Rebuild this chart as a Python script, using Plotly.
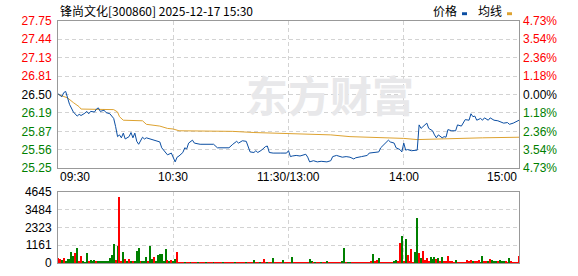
import plotly.graph_objects as go

# ---------------- data ----------------
title_text = "锋尚文化[300860] 2025-12-17 15:30"
prev_close = 26.50

price_min = [0, 2, 3, 4, 5, 6, 8, 9, 10, 11, 12, 14, 15, 16, 17, 19, 20, 21, 22, 24,
             25, 27, 29, 30, 31, 32, 33, 34, 35, 37, 38, 39, 40, 41, 42, 44, 45, 46, 49, 51,
             53, 54, 56, 57, 59, 60, 61, 62, 63, 65, 66, 67, 68, 70, 71, 74, 77, 79, 81, 83,
             86, 89, 91, 93, 94, 96, 98, 99, 100, 102, 103, 104, 106, 108, 109, 110, 112, 116, 119, 120,
             121, 122, 124, 126, 129, 130, 131, 133, 135, 137, 140, 142, 143, 145, 147, 148, 150, 152, 154, 155,
             158, 161, 162, 165, 167, 168, 170, 172, 173, 175, 176, 178, 179, 180, 181, 182, 184, 186, 187, 188,
             189, 190, 192, 193, 195, 196, 197, 198, 200, 201, 202, 203, 205, 207, 208, 210, 211, 212, 214, 215,
             216, 217, 218, 220, 221, 222, 224, 225, 227, 229, 232, 234, 235, 237, 240]
price_val = [26.51, 26.46, 26.53, 26.55, 26.44, 26.33, 26.20, 26.16, 26.13, 26.16, 26.14, 26.18, 26.21, 26.17, 26.21, 26.20, 26.25, 26.27, 26.21, 26.23,
             26.19, 26.17, 26.09, 25.95, 25.78, 25.81, 25.76, 25.84, 25.74, 25.78, 25.85, 25.76, 25.84, 25.70, 25.65, 25.77, 25.74, 25.76, 25.73, 25.70,
             25.69, 25.59, 25.50, 25.47, 25.50, 25.42, 25.35, 25.43, 25.45, 25.51, 25.59, 25.57, 25.67, 25.72, 25.67, 25.65, 25.65, 25.64, 25.65, 25.59,
             25.59, 25.59, 25.65, 25.70, 25.67, 25.71, 25.70, 25.62, 25.52, 25.51, 25.54, 25.51, 25.55, 25.61, 25.62, 25.51, 25.50, 25.50, 25.50, 25.54,
             25.44, 25.45, 25.46, 25.45, 25.48, 25.43, 25.35, 25.37, 25.35, 25.36, 25.35, 25.37, 25.44, 25.46, 25.44, 25.43, 25.44, 25.43, 25.40, 25.42,
             25.44, 25.46, 25.50, 25.51, 25.52, 25.59, 25.65, 25.72, 25.69, 25.67, 25.59, 25.56, 25.52, 25.67, 25.55, 25.56, 25.54, 25.55, 25.55, 25.98,
             25.92, 25.95, 26.01, 25.92, 25.88, 25.81, 25.76, 25.81, 25.76, 25.78, 25.77, 25.90, 25.88, 25.88, 25.98, 25.96, 26.01, 26.07, 26.06, 26.17,
             26.12, 26.13, 26.06, 26.09, 26.06, 26.10, 26.06, 26.10, 26.06, 26.05, 26.01, 26.02, 25.99, 26.01, 26.06]

avg_min = [0, 5, 8, 11, 12, 29, 31, 32, 34, 44, 46, 53, 57, 60, 63, 74, 91, 102, 119, 121,
           142, 152, 168, 180, 187, 197, 221, 240]
avg_val = [26.50, 26.44, 26.36, 26.29, 26.25, 26.24, 26.20, 26.12, 26.06, 26.05, 25.99, 25.96, 25.92, 25.91, 25.88, 25.88, 25.87, 25.85, 25.83, 25.83,
           25.81, 25.78, 25.77, 25.75, 25.73, 25.74, 25.76, 25.77]

volume = [300, 254, 170, 300, 106, 254, 254, 700, 424, 636,
          950, 106, 424, 64, 60, 636, 106, 212, 64, 170,
          64, 64, 64, 64, 64, 64, 64, 318, 530, 1270,
          212, 1100, 4346, 64, 700, 254, 64, 254, 106, 64,
          64, 785, 950, 64, 64, 106, 380, 64, 1100, 254,
          380, 106, 530, 594, 594, 64, 890, 212, 106, 170,
          64, 254, 700, 42, 42, 42, 42, 42, 42, 42,
          42, 42, 42, 42, 42, 42, 42, 42, 42, 42,
          42, 42, 42, 42, 42, 42, 42, 42, 42, 42,
          42, 42, 42, 42, 42, 42, 42, 42, 42, 42,
          42, 42, 212, 42, 42, 42, 42, 276, 42, 42,
          42, 42, 318, 42, 42, 42, 42, 212, 42, 42,
          42, 42, 380, 42, 42, 42, 42, 42, 42, 42,
          42, 276, 106, 42, 42, 42, 42, 42, 42, 42,
          85, 42, 42, 42, 42, 42, 42, 42, 106, 950,
          42, 42, 42, 42, 42, 42, 42, 42, 42, 42,
          42, 42, 42, 106, 570, 64, 170, 318, 42, 42,
          42, 42, 42, 42, 42, 85, 170, 106, 1335, 1780,
          64, 1590, 530, 64, 890, 42, 742, 2926, 636, 318,
          805, 170, 318, 64, 380, 254, 380, 254, 318, 64,
          380, 64, 64, 424, 64, 64, 42, 170, 42, 42,
          42, 42, 42, 212, 64, 170, 106, 64, 106, 170,
          42, 424, 106, 64, 64, 254, 170, 64, 64, 64,
          170, 106, 106, 64, 42, 318, 64, 42, 42, 42,
          424]
vol_dir = ("rrgrggggggr"[0:0] +
           "rrgrgggggr" + "grrgggrggg" + "rggggggggg" + "rgrrgrgrgr" + "gggrgggrgg" +
           "rggggggrgr" + "ggrrrrgrrg" + "rrrgrrrgrr" + "rgrrrrgrrr" + "rrgrrrrrgr" +
           "rrgrrgrrrg" + "rrgrrrrgrr" + "rrgrrrrrrr" + "rggrgrrgrr" + "grrrrrrrgg" +
           "rggrrrrrrr" + "rrrrgrrgrr" + "rrrrrggrrg" + "rgrrrrggrg" + "rrrrgggrgr" +
           "grrrrrrgrr" + "rrrrrrgrrr" + "ggrrgrgggr" + "gggrrgrrrr" + "r")

time_ticks = [0, 60, 120, 180, 240]
time_labels = ["09:30", "10:30", "11:30/13:00", "14:00", "15:00"]
price_ticks = [25.25, 25.56, 25.87, 26.19, 26.50, 26.81, 27.13, 27.44, 27.75]
pct_labels = ["4.73%", "3.54%", "2.36%", "1.18%", "0.00%", "1.18%", "2.36%", "3.54%", "4.73%"]
vol_ticks = [0, 1161, 2323, 3484, 4645]

# ---------------- styling ----------------
RED = "#FF0000"
GREEN = "#008000"
BLUE = "#0B4EA2"
GOLD = "#DDA230"
GRID = "#D3D3D3"
BORDER = "#999999"
FONT = "Liberation Sans, Arial, sans-serif"

W, H = 578, 276
ML, MR, MT, MB = 58, 59, 21, 6
plot_h = H - MT - MB
plot_w = W - ML - MR


def py(pix):
    return (H - MB - pix) / plot_h


def px(pix):
    return (pix - ML) / plot_w


def col_for(v):
    if abs(v - prev_close) < 1e-9:
        return "#000000"
    return RED if v > prev_close else GREEN


left_text = [f"<span style='color:{col_for(v)}'>{v:.2f}</span>" for v in price_ticks]
pct_vals = [(v - prev_close) / prev_close * 100 for v in price_ticks]
right_text = [f"<span style='color:{col_for(v)}'>{t}</span>" for v, t in zip(price_ticks, pct_labels)]

fig = go.Figure()

fig.add_trace(go.Scatter(x=avg_min, y=avg_val, mode="lines",
                         line=dict(color=GOLD, width=1), xaxis="x", yaxis="y",
                         hoverinfo="skip", showlegend=False))
fig.add_trace(go.Scatter(x=price_min, y=price_val, mode="lines",
                         line=dict(color=BLUE, width=1), xaxis="x", yaxis="y",
                         hoverinfo="skip", showlegend=False))
# invisible trace to anchor right axis
fig.add_trace(go.Scatter(x=[0, 240], y=[pct_vals[0], pct_vals[-1]], mode="lines",
                         line=dict(width=0, color="rgba(0,0,0,0)"), xaxis="x", yaxis="y3",
                         hoverinfo="skip", showlegend=False))

vol_x = list(range(len(volume)))
vol_colors = [RED if c == "r" else GREEN for c in vol_dir]
fig.add_trace(go.Bar(x=vol_x, y=volume, marker=dict(color=vol_colors, line=dict(width=0)),
                     width=0.55, xaxis="x2", yaxis="y2", hoverinfo="skip", showlegend=False))

price_dom = [py(172), 1]
vol_dom = [0, py(197)]

axis_common = dict(showline=True, linecolor=BORDER, linewidth=1, mirror=True,
                   zeroline=False, gridcolor=GRID, griddash="4px,3px", gridwidth=1,
                   ticks="", fixedrange=True)

fig.update_layout(
    width=W, height=H,
    margin=dict(l=ML, r=MR, t=MT, b=MB, pad=0),
    paper_bgcolor="white", plot_bgcolor="white",
    font=dict(family=FONT, size=12, color="#000000"),
    bargap=0,
    xaxis=dict(domain=[0, 1], range=[0, 240], tickvals=[60, 120, 180], showticklabels=False,
               anchor="y", **axis_common),
    yaxis=dict(domain=price_dom, range=[25.25, 27.75], tickvals=price_ticks, ticktext=left_text,
               anchor="x", ticklabelstandoff=3, **axis_common),
    yaxis3=dict(overlaying="y", side="right", range=[pct_vals[0], pct_vals[-1]], tickvals=pct_vals,
                ticktext=right_text, anchor="x", showgrid=False, zeroline=False, showline=False,
                ticks="", fixedrange=True, ticklabelstandoff=3),
    xaxis2=dict(domain=[0, 1], range=[0, 240], tickvals=[60, 120, 180], showticklabels=False,
                anchor="y2", **axis_common),
    yaxis2=dict(domain=vol_dom, range=[0, 4645], tickvals=vol_ticks,
                ticktext=[str(v) for v in vol_ticks], anchor="x2", ticklabelstandoff=3,
                **axis_common),
)

annotations = []
# time labels
for i, (t, lab) in enumerate(zip(time_ticks, time_labels)):
    anchor = "left" if i == 0 else ("right" if i == len(time_ticks) - 1 else "center")
    annotations.append(dict(x=t, y=py(182), xref="x", yref="paper", text=lab, showarrow=False,
                            xanchor=anchor, yanchor="middle",
                            font=dict(family=FONT, size=12, color="#000000")))
# title
annotations.append(dict(x=0, y=py(10), xref="paper", yref="paper", text=title_text,
                        showarrow=False, xanchor="left", yanchor="middle",
                        font=dict(family="Noto Sans CJK SC", size=12, color="#000000")))
# legend labels
annotations.append(dict(x=px(431), y=py(10), xref="paper", yref="paper", text="价格",
                        showarrow=False, xanchor="left", yanchor="middle",
                        font=dict(family="Noto Sans CJK SC", size=12, color="#000000")))
annotations.append(dict(x=px(476), y=py(10), xref="paper", yref="paper", text="均线",
                        showarrow=False, xanchor="left", yanchor="middle",
                        font=dict(family="Noto Sans CJK SC", size=12, color="#000000")))
# watermark
annotations.append(dict(x=px(330), y=py(96), xref="paper", yref="paper", text="<b>东方财富</b>",
                        showarrow=False, xanchor="center", yanchor="middle",
                        font=dict(family="Noto Sans CJK SC", size=42, color="#E8E8EA")))

fig.update_layout(annotations=annotations)

shapes = [
    dict(type="rect", xref="paper", yref="paper", x0=px(462), x1=px(467), y0=py(15), y1=py(12),
         fillcolor=BLUE, line=dict(width=0)),
    dict(type="rect", xref="paper", yref="paper", x0=px(507), x1=px(512), y0=py(15), y1=py(12),
         fillcolor=GOLD, line=dict(width=0)),
]
fig.update_layout(shapes=shapes)

fig.write_html("out.html")
